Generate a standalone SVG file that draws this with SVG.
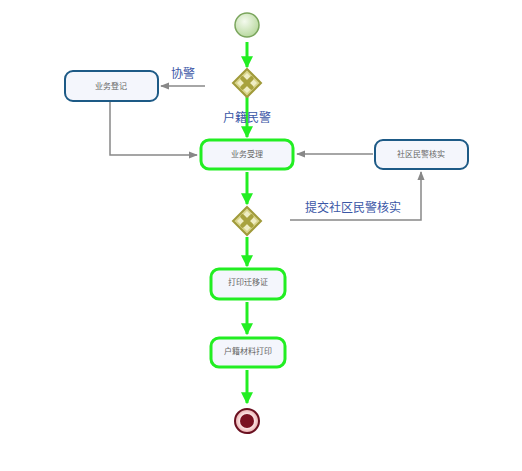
<svg xmlns="http://www.w3.org/2000/svg" width="522" height="471" viewBox="0 0 522 471">
<style>
.task{fill:#f4f6fc;rx:8;ry:8}
.blue{stroke:#1d5a86;stroke-width:2}
.green{stroke:#22ee22;stroke-width:3}
.tt{font-family:"Noto Sans CJK SC",sans-serif;font-size:8px;fill:#666;text-anchor:middle}
.lbl{font-family:"Noto Sans CJK SC",sans-serif;font-size:12px;fill:#3a56a6;text-anchor:middle}
.gl{stroke:#22ee22;stroke-width:3;fill:none}
.gr{stroke:#888;stroke-width:1.5;fill:none}
</style>
<defs>
<radialGradient id="sg" cx="0.4" cy="0.35" r="0.7"><stop offset="0" stop-color="#f4faee"/><stop offset="1" stop-color="#b5d79a"/></radialGradient>
<radialGradient id="eg" cx="0.5" cy="0.5" r="0.5"><stop offset="0.6" stop-color="#fbe4e4"/><stop offset="1" stop-color="#e8a8a8"/></radialGradient>
<marker id="ag" viewBox="0 0 10 10" refX="9" refY="5" markerWidth="4" markerHeight="4" orient="auto"><path d="M0,0 L10,5 L0,10 z" fill="#22ee22"/></marker>
<marker id="ar" viewBox="0 0 10 10" refX="9" refY="5" markerWidth="6" markerHeight="6" orient="auto"><path d="M0,1 L10,5 L0,9 z" fill="#888"/></marker>
<g id="gw">
<path d="M0,-14 L14,0 L0,14 L-14,0 z" fill="#d8d48a" stroke="#a09a3a" stroke-width="2"/>
<path d="M0,-10 L10,0 L0,10 L-10,0 z" fill="#efedc4"/>
<path d="M-4.5,-4.5 L4.5,4.5 M4.5,-4.5 L-4.5,4.5" stroke="#a8a23e" stroke-width="4.5" stroke-linecap="round"/>
</g>
</defs>
<rect width="522" height="471" fill="#fff"/>
<g id="connectors">
<line class="gl" x1="247" y1="42" x2="247" y2="67" marker-end="url(#ag)"/>
<line class="gr" x1="205" y1="86" x2="161" y2="86" marker-end="url(#ar)"/>
<text class="lbl" x="183" y="78">协警</text>
<line class="gl" x1="247" y1="97" x2="247" y2="137" marker-end="url(#ag)"/>
<text class="lbl" x="247" y="122">户籍民警</text>
<polyline class="gr" points="110,102 110,155 197,155" marker-end="url(#ar)"/>
<line class="gr" x1="373" y1="154" x2="297" y2="154" marker-end="url(#ar)"/>
<line class="gl" x1="247" y1="172" x2="247" y2="204" marker-end="url(#ag)"/>
<polyline class="gr" points="290,220 421,220 421,172" marker-end="url(#ar)"/>
<text class="lbl" x="353" y="212">提交社区民警核实</text>
<line class="gl" x1="247" y1="237" x2="247" y2="266" marker-end="url(#ag)"/>
<line class="gl" x1="247" y1="302" x2="247" y2="334" marker-end="url(#ag)"/>
<line class="gl" x1="247" y1="370" x2="247" y2="403" marker-end="url(#ag)"/>
</g>
<g id="start"><circle cx="247" cy="25" r="12" fill="url(#sg)" stroke="#7aa55c" stroke-width="1.5"/></g>
<g id="gateway1"><use href="#gw" x="247" y="83"/></g>
<g id="task_dengji"><rect class="task blue" x="65" y="71" width="93" height="30"/><text class="tt" x="111" y="89">业务登记</text></g>
<g id="task_shouli"><rect class="task green" x="201" y="140" width="92" height="29"/><text class="tt" x="247" y="157">业务受理</text></g>
<g id="task_hesi"><rect class="task blue" x="375" y="140" width="93" height="29"/><text class="tt" x="421" y="157">社区民警核实</text></g>
<g id="gateway2"><use href="#gw" x="247" y="221"/></g>
<g id="task_qianyi"><rect class="task green" x="211" y="269" width="74" height="30"/><text class="tt" x="248" y="285">打印迁移证</text></g>
<g id="task_cailiao"><rect class="task green" x="211" y="338" width="74" height="29"/><text class="tt" x="248" y="354">户籍材料打印</text></g>
<g id="end"><circle cx="247" cy="421" r="12" fill="url(#eg)" stroke="#6a1020" stroke-width="2"/><circle cx="247" cy="421" r="7" fill="#7a1020"/></g>
</svg>
